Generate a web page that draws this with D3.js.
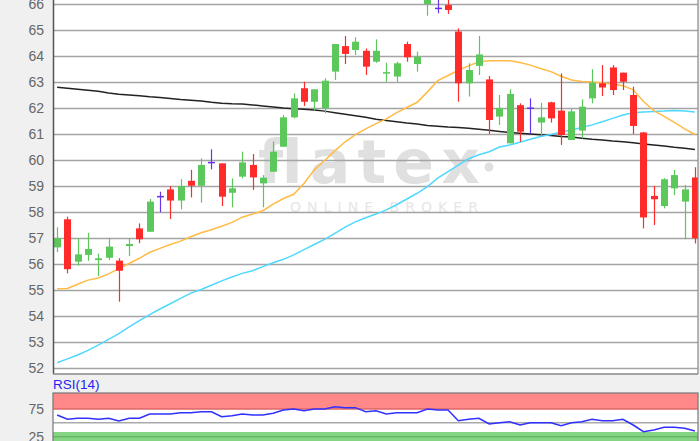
<!DOCTYPE html>
<html>
<head>
<meta charset="utf-8">
<style>
  body { margin: 0; background: #f0f0f0; }
  svg { display: block; }
</style>
</head>
<body>
<svg width="700" height="441" font-family="'Liberation Sans', Arial, sans-serif"></svg>

<script src="https://d3js.org/d3.v7.min.js"></script>

<script>

// daily candles, oldest first
var opens  = [56.64,57.72,56.09,56.35,56.15,56.24,56.13,56.69,57.37,57.24,58.59,58.87,58.44,59.20,59.01,59.90,59.87,58.74,59.36,59.81,59.10,59.55,
              60.51,61.64,62.76,62.24,61.99,63.40,64.38,64.23,64.20,63.78,63.34,63.21,64.46,63.69,66.00,65.83,65.96,64.94,62.95,63.62,63.10,61.67,
              60.64,62.11,61.99,61.44,62.22,61.90,60.77,61.13,62.37,62.95,63.56,63.36,62.50,61.06,58.62,58.23,58.91,58.40,59.33];
var highs  = [57.41,57.82,56.99,57.20,56.40,57.01,56.22,57.00,57.56,58.50,58.78,59.00,59.26,59.62,60.06,60.41,59.87,59.29,60.32,60.23,59.42,60.71,
              61.73,62.56,63.01,62.72,63.14,64.46,64.77,64.72,64.29,64.64,63.74,63.78,64.55,64.17,66.60,66.20,66.20,65.06,63.72,64.77,63.23,62.50,
              62.72,62.18,62.37,62.20,62.24,63.33,61.96,62.33,63.49,63.65,63.65,63.36,62.82,61.08,59.00,59.30,59.62,59.04,59.72];
var lows   = [56.45,55.64,55.94,56.12,55.54,56.15,54.55,56.30,56.80,57.24,57.99,57.73,58.10,58.56,58.36,59.64,58.23,58.18,59.29,58.85,58.18,59.55,
              60.51,61.60,62.08,61.90,61.80,63.08,63.69,64.04,63.27,63.74,63.01,63.01,63.78,63.40,65.55,65.64,65.62,62.24,62.44,63.27,61.00,61.35,
              60.64,60.70,61.00,60.96,61.44,60.58,60.77,60.83,62.18,62.46,62.50,62.69,61.00,57.37,57.50,58.14,58.65,56.95,56.79];
var closes = [56.99,55.80,56.37,56.58,56.22,56.67,55.74,56.77,56.95,58.40,58.59,58.44,59.00,59.01,59.81,59.90,58.59,58.91,59.91,59.33,59.32,60.32,
              61.64,62.37,62.24,62.72,63.05,64.46,64.08,64.55,63.59,64.20,63.38,63.72,63.95,63.97,66.30,65.83,65.77,62.95,63.46,64.06,61.54,62.00,
              62.54,61.09,61.99,61.64,61.60,60.96,61.87,62.05,62.97,62.79,62.69,63.01,61.31,57.79,58.49,59.26,59.42,58.87,56.99];

// moving averages
var maLong  = [62.80,62.76,62.72,62.68,62.64,62.58,62.53,62.50,62.47,62.43,62.40,62.37,62.33,62.30,62.27,62.22,62.18,62.16,62.15,62.12,62.08,62.04,
               62.00,61.97,61.95,61.92,61.88,61.82,61.76,61.70,61.64,61.57,61.52,61.47,61.42,61.38,61.33,61.30,61.27,61.25,61.22,61.18,61.14,61.10,
               61.06,61.03,61.00,60.97,60.94,60.90,60.88,60.84,60.80,60.77,60.73,60.70,60.66,60.62,60.58,60.54,60.49,60.45,60.40];
var maShort = [55.05,55.06,55.22,55.38,55.46,55.62,55.82,56.02,56.22,56.45,56.60,56.75,56.88,57.05,57.20,57.32,57.45,57.60,57.80,57.92,58.05,58.30,
               58.52,58.68,59.10,59.62,59.98,60.35,60.70,60.98,61.20,61.40,61.58,61.82,62.02,62.22,62.62,63.05,63.25,63.45,63.62,63.78,63.82,63.82,
               63.82,63.75,63.65,63.52,63.40,63.22,63.08,63.02,63.00,62.96,62.92,62.86,62.70,62.25,61.90,61.68,61.45,61.20,60.98];
var maMid   = [52.20,52.35,52.50,52.68,52.88,53.10,53.32,53.58,53.82,54.05,54.27,54.47,54.68,54.88,55.02,55.18,55.35,55.50,55.64,55.74,55.90,56.05,
               56.18,56.35,56.55,56.75,56.95,57.18,57.42,57.62,57.78,57.92,58.08,58.28,58.50,58.72,58.98,59.30,59.55,59.80,60.05,60.20,60.32,60.50,
               60.58,60.68,60.80,60.90,60.98,61.08,61.15,61.25,61.35,61.47,61.60,61.73,61.82,61.85,61.87,61.88,61.90,61.88,61.85];

// RSI(14)
var rsi = [64.2,56.4,58.2,58.2,56.4,58.2,53.3,58.2,58.2,66.0,66.0,66.0,68.3,68.3,70.1,70.1,61.1,62.9,66.0,64.2,64.2,67.2,
           73.2,75.0,71.9,75.0,75.0,79.2,77.4,77.4,70.1,71.9,66.0,68.3,68.3,68.3,75.0,73.2,73.2,53.9,56.4,58.2,47.9,50.3,
           52.1,46.1,50.3,50.3,50.3,44.8,50.3,52.1,56.4,53.9,53.9,56.4,46.1,34.0,37.0,41.9,41.9,40.1,35.2];

var priceTicks = d3.range(52, 67);
var rsiTicks = [25, 75];
var rsiUpper = [75, 110];
var rsiLower = [0, 33.5];

var svg = d3.select("svg");

var left = 53, right = 698;
var mainTop = -2, mainBottom = 374;
var rsiTop = 393, rsiBottom = 446;

var x = d3.scaleLinear().domain([-0.4, opens.length - 0.7]).range([left, right]);
var y = d3.scaleLinear().domain([52, 66]).range([368, 4]);
var yr = d3.scaleLinear().domain([25, 75]).range([436.7, 409]);

svg.append("rect").attr("width", 700).attr("height", 441).attr("fill", "#f0f0f0");

var defs = svg.append("defs");
defs.append("clipPath").attr("id", "clip-main")
  .append("rect").attr("x", left).attr("y", mainTop).attr("width", right - left).attr("height", mainBottom - mainTop);
defs.append("clipPath").attr("id", "clip-rsi")
  .append("rect").attr("x", left).attr("y", rsiTop).attr("width", right - left).attr("height", rsiBottom - rsiTop);

// ---- main panel ----
svg.append("rect")
    .attr("x", left).attr("y", mainTop)
    .attr("width", right - left).attr("height", mainBottom - mainTop)
    .attr("fill", "#fff");

// watermark (behind the grid)
svg.append("text")
    .attr("x", 258).attr("y", 183)
    .attr("textLength", 222).attr("lengthAdjust", "spacing")
    .attr("font-size", 60).attr("font-weight", "bold").attr("font-family", "'DejaVu Sans', sans-serif")
    .attr("fill", "#e0e0e0")
    .text("flatex");
svg.append("circle").attr("cx", 489).attr("cy", 167).attr("r", 4.5).attr("fill", "#e0e0e0");
svg.append("text")
    .attr("x", 290).attr("y", 212)
    .attr("textLength", 188).attr("lengthAdjust", "spacing")
    .attr("font-size", 14).attr("font-family", "'DejaVu Sans', sans-serif")
    .attr("fill", "#e6e6e6")
    .text("ONLINE BROKER");

var yAxis = svg.append("g")
    .attr("transform", "translate(" + left + ",0)")
    .call(d3.axisLeft(y).tickValues(priceTicks).tickSize(-(right - left)).tickPadding(9).tickFormat(d3.format("d")));
yAxis.select(".domain").remove();
yAxis.selectAll(".tick line").attr("stroke", "#a4a4a4").attr("stroke-width", 1.5);
yAxis.selectAll(".tick text").attr("fill", "#666").attr("font-size", 14).attr("font-family", "'Liberation Sans', Arial, sans-serif");

var plot = svg.append("g").attr("clip-path", "url(#clip-main)");

var line = function(values) {
  return d3.line().x(function(d, i) { return x(i); }).y(function(d) { return y(d); })(values);
};

plot.append("path").attr("d", line(maLong)).attr("fill", "none").attr("stroke", "#222").attr("stroke-width", 1.5);
plot.append("path").attr("d", line(maMid)).attr("fill", "none").attr("stroke", "#4fd8ff").attr("stroke-width", 1.5);
plot.append("path").attr("d", line(maShort)).attr("fill", "none").attr("stroke", "#ffbb44").attr("stroke-width", 1.5);

var candles = opens.map(function(o, i) {
  return { i: i, o: o, h: highs[i], l: lows[i], c: closes[i] };
});

function candleColor(d) {
  if (d.c > d.o) return "#5cc85c";
  if (d.c < d.o) return "#ff2b2b";
  return "#6633ee";
}

var bw = 7;

var node = plot.selectAll(".candle")
    .data(candles)
    .enter().append("g")
      .attr("class", "candle");

node.append("line")
    .attr("x1", function(d) { return Math.round(x(d.i)) + 0.5; })
    .attr("x2", function(d) { return Math.round(x(d.i)) + 0.5; })
    .attr("y1", function(d) { return y(d.h); })
    .attr("y2", function(d) { return y(d.l); })
    .attr("stroke", candleColor)
    .attr("stroke-width", 1.2);

node.filter(function(d) { return d.o !== d.c; }).append("rect")
    .attr("x", function(d) { return Math.round(x(d.i)) + 0.5 - bw / 2; })
    .attr("width", bw)
    .attr("y", function(d) { return y(Math.max(d.o, d.c)); })
    .attr("height", function(d) { return Math.max(1.5, Math.abs(y(d.o) - y(d.c))); })
    .attr("fill", candleColor);

node.filter(function(d) { return d.o === d.c; }).append("line")
    .attr("x1", function(d) { return Math.round(x(d.i)) + 0.5 - bw / 2; })
    .attr("x2", function(d) { return Math.round(x(d.i)) + 0.5 + bw / 2; })
    .attr("y1", function(d) { return y(d.o); })
    .attr("y2", function(d) { return y(d.o); })
    .attr("stroke", candleColor)
    .attr("stroke-width", 1.5);

// frame
svg.append("line").attr("x1", left + 0.5).attr("x2", left + 0.5).attr("y1", mainTop).attr("y2", mainBottom)
    .attr("stroke", "#555").attr("stroke-width", 1.5);
svg.append("line").attr("x1", left).attr("x2", right).attr("y1", mainBottom).attr("y2", mainBottom)
    .attr("stroke", "#888").attr("stroke-width", 1.5);
svg.append("line").attr("x1", right).attr("x2", right).attr("y1", mainTop).attr("y2", mainBottom)
    .attr("stroke", "#888").attr("stroke-width", 1.2);

// ---- RSI panel ----
svg.append("text")
    .attr("x", 53).attr("y", 389)
    .attr("font-size", 13.5).attr("fill", "#2424f0")
    .text("RSI(14)");

svg.append("rect")
    .attr("x", left).attr("y", rsiTop)
    .attr("width", right - left).attr("height", rsiBottom - rsiTop)
    .attr("fill", "#fff");

var rsiPlot = svg.append("g").attr("clip-path", "url(#clip-rsi)");

rsiPlot.append("rect")
    .attr("x", left).attr("width", right - left)
    .attr("y", yr(rsiUpper[1])).attr("height", yr(rsiUpper[0]) - yr(rsiUpper[1]))
    .attr("fill", "#ff8888");
rsiPlot.append("rect")
    .attr("x", left).attr("width", right - left)
    .attr("y", yr(rsiLower[1])).attr("height", yr(rsiLower[0]) - yr(rsiLower[1]))
    .attr("fill", "#84d484");

rsiPlot.append("line").attr("x1", left).attr("x2", right).attr("y1", yr(50)).attr("y2", yr(50))
    .attr("stroke", "#aaa").attr("stroke-width", 1.5);
rsiPlot.append("line").attr("x1", left).attr("x2", right).attr("y1", yr(75)).attr("y2", yr(75))
    .attr("stroke", "#dd6666").attr("stroke-width", 1.5);
rsiPlot.append("line").attr("x1", left).attr("x2", right).attr("y1", yr(25)).attr("y2", yr(25))
    .attr("stroke", "#66b866").attr("stroke-width", 1.5);

rsiPlot.append("path")
    .attr("d", d3.line().x(function(d, i) { return x(i); }).y(function(d) { return yr(d); })(rsi))
    .attr("fill", "none").attr("stroke", "#3030ff").attr("stroke-width", 1.5);

var rAxis = svg.append("g")
    .attr("transform", "translate(" + left + ",0)")
    .call(d3.axisLeft(yr).tickValues(rsiTicks).tickSize(0).tickPadding(9));
rAxis.select(".domain").remove();
rAxis.selectAll(".tick text").attr("fill", "#666").attr("font-size", 14).attr("font-family", "'Liberation Sans', Arial, sans-serif");

svg.append("rect")
    .attr("x", left).attr("y", rsiTop)
    .attr("width", right - left).attr("height", rsiBottom - rsiTop)
    .attr("fill", "none").attr("stroke", "#777").attr("stroke-width", 1.2);

</script>
</body>
</html>
